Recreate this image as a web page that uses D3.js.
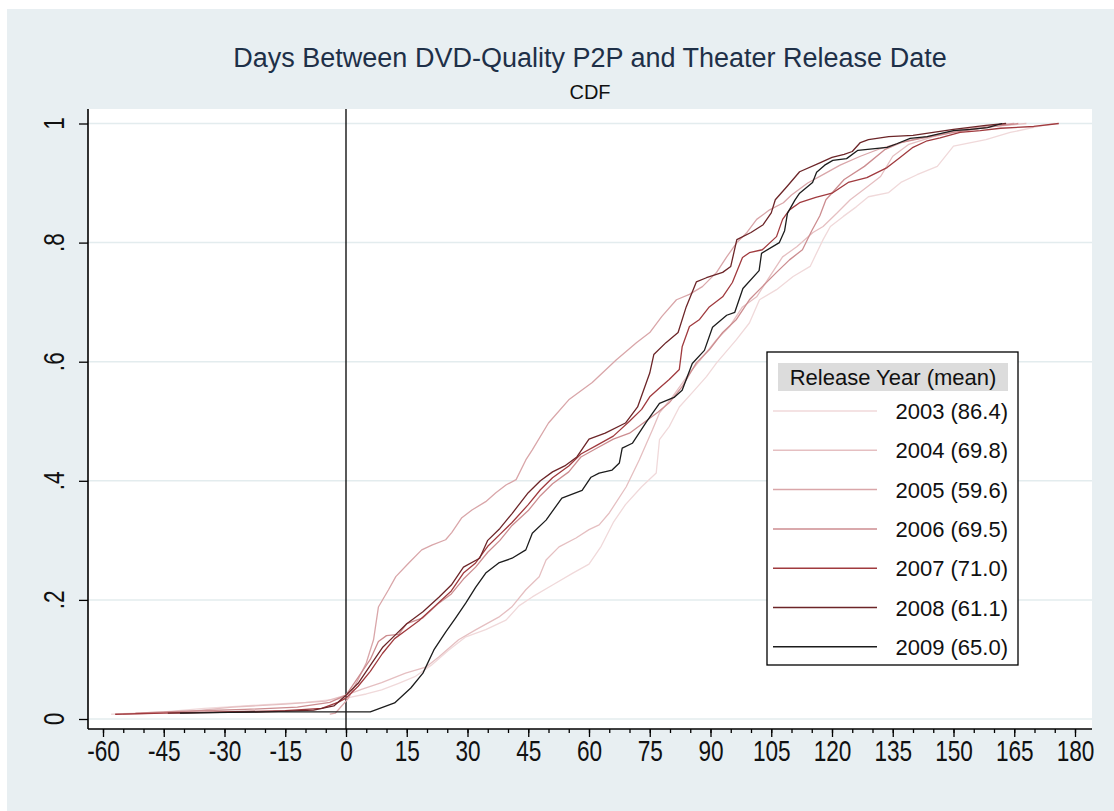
<!DOCTYPE html>
<html><head><meta charset="utf-8">
<script src="https://cdn.jsdelivr.net/npm/d3@7"></script>
<style>body{margin:0;background:#fff}svg{display:block}text{font-family:"Liberation Sans",Arial,sans-serif}</style>
</head><body><svg id="c" width="1114" height="811"></svg>
<script>
// ---- data: [days, cumulative share] ----
const years = ["2003","2004","2005","2006","2007","2008","2009"];
const means = ["86.4","69.8","59.6","69.5","71.0","61.1","65.0"];
const xTicks = [-60,-45,-30,-15,0,15,30,45,60,75,90,105,120,135,150,165,180];
const yTicks = [0,0.2,0.4,0.6,0.8,1];
const yTickLabels = ["0",".2",".4",".6",".8","1"];

const s2003 = [[-58,.008],[-45,.012],[-35,.018],[-20,.024],[-10,.028],[0,.035],[5,.042],[8.8,.049],[13,.06],[17,.071],[21,.09],[25.4,.116],[29.6,.138],[34.5,.15],[39.5,.166],[42.7,.19],[46,.205],[51,.225],[56,.245],[60,.26],[63,.29],[66,.33],[69,.36],[73,.39],[76.6,.413],[77.4,.469],[79.8,.491],[82.3,.524],[85.5,.548],[89,.575],[91.5,.598],[96.4,.637],[99.6,.665],[102.1,.704],[106.3,.721],[110.4,.743],[114.6,.76],[117.8,.805],[119.6,.827],[122.8,.844],[126,.86],[129,.877],[134,.884],[137,.901],[141,.914],[146,.928],[150,.962],[158,.973],[164,.985],[171,.995],[175,1]];
const s2004 = [[-55,.008],[-40,.012],[-28,.02],[-15,.025],[-5,.03],[0,.04],[4,.05],[8.8,.061],[14.7,.077],[19.7,.087],[22.9,.104],[27.8,.133],[32.1,.15],[37.7,.171],[40.9,.188],[44.4,.217],[47.7,.239],[49.4,.267],[52.6,.289],[56.8,.304],[60,.318],[62.5,.326],[65,.346],[69.2,.39],[72.4,.435],[75.7,.486],[77.4,.514],[80.6,.541],[84.8,.581],[88.1,.608],[91.5,.637],[94.7,.659],[97.9,.692],[101.4,.709],[104.6,.743],[107.8,.776],[111.3,.793],[115.3,.817],[117.8,.827],[121.3,.85],[124.5,.872],[128,.89],[132,.911],[135,.945],[139,.965],[145,.978],[152,.988],[160,.995],[168,1]];
const s2005 = [[-4,.008],[-2.6,.01],[0,.03],[0.6,.035],[2.6,.061],[5,.094],[6.8,.133],[8,.188],[10.5,.217],[12.3,.239],[15.5,.262],[18.7,.284],[21.2,.292],[24.6,.301],[26.1,.313],[28.6,.338],[31.1,.351],[34.5,.365],[37,.38],[39.5,.393],[42,.402],[44.4,.435],[46,.452],[50,.497],[55,.536],[60.8,.565],[66.7,.603],[71.7,.632],[75,.649],[78,.676],[81.6,.704],[84.8,.713],[88,.726],[91.5,.75],[94,.776],[96.5,.8],[99,.817],[101.4,.839],[104.6,.855],[108,.867],[110,.88],[114,.9],[118,.915],[122,.93],[127,.945],[132,.958],[138,.97],[145,.98],[152,.99],[160,.997],[165,1]];
const s2006 = [[-52,.01],[-40,.013],[-25,.016],[-12,.02],[-4,.028],[0,.04],[3,.07],[6,.1],[8,.13],[10,.14],[13,.142],[15,.16],[19,.17],[23,.195],[26,.21],[29,.235],[32,.255],[35,.28],[38,.3],[41,.325],[45,.35],[48,.375],[51,.395],[55,.415],[58,.44],[62,.455],[66,.47],[70,.48],[74,.5],[77,.515],[79.8,.531],[83,.558],[86.5,.598],[89.7,.62],[93,.649],[96.4,.671],[99.6,.704],[102.8,.726],[106.3,.75],[109.5,.771],[112.7,.788],[115,.82],[117,.845],[118.5,.872],[123,.906],[128,.928],[133,.956],[137,.968],[142,.975],[150,.985],[160,.995],[166,1]];
const s2007 = [[-57,.008],[-45,.01],[-30,.012],[-15,.014],[-6,.018],[-2,.028],[0,.035],[3,.055],[6,.08],[9,.11],[12,.135],[15,.15],[18,.165],[22,.19],[26,.215],[29,.245],[32,.262],[35,.29],[38,.31],[41,.33],[45,.36],[48,.385],[51,.405],[55,.425],[58,.445],[62,.46],[66,.475],[70,.5],[73,.52],[75,.541],[77.4,.556],[79.8,.57],[82.3,.587],[83,.625],[84.8,.659],[87.3,.671],[89.7,.692],[93,.709],[95.4,.733],[97.9,.775],[99.6,.783],[102.8,.788],[106.3,.81],[107.8,.839],[109.5,.855],[112,.867],[116,.876],[120,.883],[124,.901],[128.6,.909],[133.6,.926],[136.8,.943],[140,.96],[143.5,.971],[146.7,.976],[151.6,.985],[156.6,.988],[161.6,.992],[169.8,.995],[176,1]];
const s2008 = [[-44,.01],[-20,.012],[-8,.015],[-3,.022],[0,.04],[3,.06],[6,.09],[9,.12],[12,.14],[15,.16],[19,.18],[23,.205],[26,.225],[29,.255],[33,.27],[35,.3],[38,.32],[41,.345],[45,.38],[48,.4],[51,.415],[54,.425],[57,.44],[60,.47],[64,.48],[69,.497],[72,.524],[75,.581],[76,.612],[79,.632],[82,.649],[84,.692],[86.5,.734],[89,.741],[93,.75],[95,.76],[96.5,.805],[100,.817],[103,.83],[105,.85],[106,.872],[109,.895],[112,.919],[117,.934],[120,.943],[123,.948],[125,.953],[127,.968],[129,.973],[134,.978],[140,.98],[145,.985],[150,.99],[158,.997],[163,1]];
const s2009 = [[-41,.01],[-29,.011],[-20,.012],[6,.012],[12,.027],[16,.052],[19,.077],[21.7,.116],[24.6,.146],[27,.169],[29.6,.195],[32,.221],[34.5,.245],[37.7,.262],[41,.27],[44.4,.284],[46,.312],[49.4,.334],[53.3,.371],[58.3,.384],[60.5,.406],[62.5,.413],[65.7,.418],[67.5,.43],[68.2,.455],[70.7,.463],[74.1,.498],[77.4,.53],[81,.54],[83,.552],[85.5,.597],[88.5,.619],[90.5,.658],[94,.678],[96,.683],[98,.723],[102,.753],[102.6,.782],[107,.8],[108.3,.82],[109,.849],[110.8,.871],[112,.883],[115.2,.901],[116.2,.918],[118.2,.93],[120.2,.938],[123.6,.941],[126.4,.955],[133.6,.96],[136,.966],[139.3,.975],[143.5,.978],[146.7,.983],[150,.988],[154.2,.99],[158.4,.993],[162,1]];

const seriesData = [s2003,s2004,s2005,s2006,s2007,s2008,s2009];
const colors = ["#f0d9da","#e5bfc1","#d9a6a9","#cc8d90","#a03a3e","#6c2528","#1c1c1c"];

// ---- layout ----
const svg = d3.select("#c");
const plot = {l:88, r:1092, t:109, b:729};
svg.append("rect").attr("x",7).attr("y",9).attr("width",1107).attr("height",802).attr("fill","#e8eff2");
svg.append("rect").attr("x",plot.l).attr("y",plot.t).attr("width",plot.r-plot.l).attr("height",plot.b-plot.t).attr("fill","#fff");

const x = d3.scaleLinear().domain([-60,180]).range([103,1075]);
const y = d3.scaleLinear().domain([0,1]).range([719,123.5]);

// title
svg.append("text").attr("x",590).attr("y",67).attr("text-anchor","middle")
  .attr("font-size",27).attr("fill","#1e3048").text("Days Between DVD-Quality P2P and Theater Release Date");
svg.append("text").attr("x",590).attr("y",99).attr("text-anchor","middle")
  .attr("font-size",20).attr("fill","#111").text("CDF");

// gridlines
svg.append("g").selectAll("line").data(yTicks).join("line")
  .attr("x1",plot.l).attr("x2",plot.r).attr("y1",d=>y(d)).attr("y2",d=>y(d))
  .attr("stroke","#e3ecee").attr("stroke-width",1.5);

// zero line
svg.append("line").attr("x1",x(0)).attr("x2",x(0)).attr("y1",plot.t).attr("y2",plot.b)
  .attr("stroke","#000").attr("stroke-width",1.3);

// curves
const line = d3.line().x(d=>x(d[0])).y(d=>y(d[1]));
svg.append("g").selectAll("path").data(seriesData).join("path")
  .attr("d",line).attr("fill","none").attr("stroke",(d,i)=>colors[i]).attr("stroke-width",1.3)
  .attr("stroke-linejoin","round");

// x axis
const xMin = svg.append("g").attr("transform",`translate(0,${plot.b})`)
  .call(d3.axisBottom(x).tickValues(d3.range(-60,181,5)).tickSize(4).tickFormat(""));
xMin.select(".domain").remove();
const xMaj = svg.append("g").attr("transform",`translate(0,${plot.b})`)
  .call(d3.axisBottom(x).tickValues(xTicks).tickSize(8).tickPadding(3).tickFormat(d=>String(d)));
xMaj.select(".domain").remove();
xMaj.selectAll("text").attr("font-size",29).attr("fill","#111")
  .attr("font-family","Liberation Sans, Arial, sans-serif").attr("transform","scale(0.78,1)");
svg.selectAll(".tick line").attr("stroke","#000").attr("stroke-width",1.3);
svg.append("line").attr("x1",plot.l).attr("x2",plot.r).attr("y1",plot.b).attr("y2",plot.b).attr("stroke","#000").attr("stroke-width",1.6);

// y axis
const yAxis = svg.append("g").attr("transform",`translate(${plot.l},0)`)
  .call(d3.axisLeft(y).tickValues(yTicks).tickSize(9).tickFormat(""));
yAxis.select(".domain").remove();
yAxis.selectAll(".tick line").attr("stroke","#000").attr("stroke-width",1.3);
svg.append("g").selectAll("text").data(yTicks).join("text")
  .attr("transform",(d)=>`translate(64,${y(d)}) rotate(-90) scale(0.78,1)`)
  .attr("text-anchor","middle").attr("font-size",29).attr("fill","#111")
  .text((d,i)=>yTickLabels[i]);
svg.append("line").attr("x1",plot.l).attr("x2",plot.l).attr("y1",plot.t).attr("y2",plot.b).attr("stroke","#000").attr("stroke-width",1.6);

// legend
const lg = svg.append("g");
lg.append("rect").attr("x",767).attr("y",352).attr("width",251).attr("height",313)
  .attr("fill","#fff").attr("stroke","#000").attr("stroke-width",1.3);
lg.append("rect").attr("x",778).attr("y",363).attr("width",230).attr("height",28).attr("fill","#dcdcdc");
lg.append("text").attr("x",893).attr("y",385).attr("text-anchor","middle").attr("font-size",22).attr("fill","#111").text("Release Year (mean)");
const rows = lg.selectAll("g.row").data(years).join("g").attr("class","row")
  .attr("transform",(d,i)=>`translate(0,${411+i*39.3})`);
rows.append("line").attr("x1",773).attr("x2",877).attr("y1",0).attr("y2",0)
  .attr("stroke",(d,i)=>colors[i]).attr("stroke-width",1.5);
rows.append("text").attr("x",1008).attr("y",8).attr("text-anchor","end").attr("font-size",22).attr("fill","#111")
  .text((d,i)=>`${d} (${means[i]})`);
</script></body></html>
